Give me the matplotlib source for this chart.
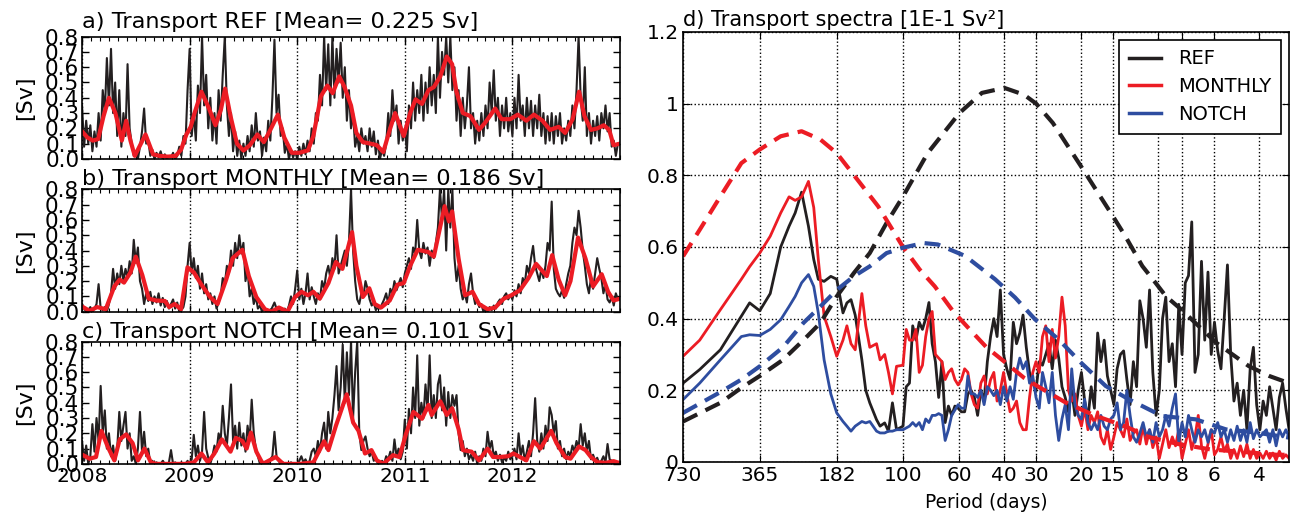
import numpy as np
import matplotlib
matplotlib.use("Agg")
import matplotlib.pyplot as plt
from matplotlib.ticker import MultipleLocator, NullLocator, FixedLocator, FixedFormatter

plt.rcParams['font.family'] = ['DejaVu Sans']

# ---------------- time series (weekly samples, Sv) ----------------
ref_daily = [
    # 2008
    0.35, 0.08, 0.25, 0.10, 0.22, 0.05, 0.18, 0.08, 0.30, 0.12, 0.45, 0.30, 0.66, 0.35, 0.72, 0.30, 0.50,
    0.15, 0.45, 0.08, 0.30, 0.15, 0.62, 0.20, 0.10, 0.02, 0.05, 0.00, 0.08, 0.18, 0.33, 0.10, 0.12, 0.02,
    0.06, 0.00, 0.04, 0.01, 0.05, 0.00, 0.03, 0.00, 0.02, 0.01, 0.04, 0.00, 0.02, 0.08, 0.02, 0.15, 0.10, 0.45,
    # 2009
    0.72, 0.15, 0.30, 0.12, 0.48, 0.30, 0.80, 0.35, 0.55, 0.20, 0.40, 0.12, 0.30, 0.10, 0.45, 0.25, 0.55,
    0.80, 0.35, 0.15, 0.30, 0.05, 0.18, 0.02, 0.12, 0.00, 0.10, 0.02, 0.15, 0.05, 0.22, 0.08, 0.30, 0.12,
    0.18, 0.02, 0.14, 0.05, 0.25, 0.12, 0.40, 0.78, 0.30, 0.42, 0.15, 0.20, 0.04, 0.10, 0.00, 0.06, 0.01, 0.05,
    # 2010
    0.00, 0.08, 0.02, 0.10, 0.03, 0.12, 0.05, 0.20, 0.10, 0.30, 0.25, 0.55, 0.35, 0.80, 0.45, 0.75, 0.35,
    0.80, 0.40, 0.72, 0.50, 0.76, 0.40, 0.60, 0.25, 0.45, 0.20, 0.30, 0.08, 0.15, 0.05, 0.20, 0.10, 0.15,
    0.05, 0.20, 0.08, 0.18, 0.03, 0.12, 0.00, 0.06, 0.02, 0.10, 0.30, 0.15, 0.45, 0.25, 0.35, 0.10, 0.25, 0.12,
    # 2011
    0.20, 0.05, 0.35, 0.20, 0.50, 0.25, 0.45, 0.30, 0.55, 0.25, 0.50, 0.30, 0.60, 0.35, 0.55, 0.30, 0.80,
    0.40, 0.70, 0.55, 0.80, 0.50, 0.80, 0.45, 0.60, 0.25, 0.45, 0.15, 0.40, 0.20, 0.35, 0.60, 0.20, 0.30,
    0.10, 0.25, 0.12, 0.30, 0.15, 0.35, 0.20, 0.50, 0.30, 0.58, 0.25, 0.40, 0.15, 0.35, 0.20, 0.40, 0.18, 0.30,
    # 2012
    0.15, 0.40, 0.20, 0.55, 0.25, 0.35, 0.15, 0.40, 0.20, 0.38, 0.15, 0.35, 0.20, 0.42, 0.15, 0.30, 0.10,
    0.28, 0.12, 0.30, 0.10, 0.28, 0.15, 0.30, 0.10, 0.20, 0.12, 0.25, 0.15, 0.35, 0.20, 0.45, 0.80, 0.40,
    0.25, 0.60, 0.15, 0.30, 0.10, 0.25, 0.15, 0.28, 0.12, 0.30, 0.20, 0.35, 0.18, 0.30, 0.08, 0.12, 0.02, 0.10,
]
monthly_daily = [
    # 2008
    0.05, 0.02, 0.00, 0.01, 0.03, 0.00, 0.02, 0.05, 0.18, 0.02, 0.01, 0.03, 0.00, 0.05, 0.12, 0.28, 0.15,
    0.25, 0.18, 0.30, 0.20, 0.28, 0.22, 0.33, 0.25, 0.47, 0.32, 0.42, 0.20, 0.15, 0.05, 0.12, 0.07, 0.13,
    0.05, 0.10, 0.06, 0.12, 0.04, 0.09, 0.03, 0.07, 0.02, 0.05, 0.08, 0.02, 0.06, 0.00, 0.01, 0.03, 0.10, 0.30,
    # 2009
    0.45, 0.25, 0.35, 0.22, 0.30, 0.15, 0.25, 0.12, 0.18, 0.08, 0.12, 0.05, 0.10, 0.02, 0.06, 0.10, 0.22,
    0.18, 0.30, 0.25, 0.40, 0.30, 0.45, 0.35, 0.50, 0.38, 0.45, 0.20, 0.28, 0.10, 0.15, 0.05, 0.10, 0.02,
    0.04, 0.00, 0.02, 0.00, 0.01, 0.00, 0.03, 0.06, 0.02, 0.00, 0.01, 0.00, 0.02, 0.00, 0.04, 0.10, 0.05, 0.15,
    # 2010
    0.27, 0.08, 0.15, 0.05, 0.12, 0.25, 0.08, 0.16, 0.10, 0.05, 0.12, 0.08, 0.20, 0.15, 0.25, 0.30, 0.22,
    0.35, 0.28, 0.50, 0.25, 0.30, 0.35, 0.40, 0.30, 0.45, 0.80, 0.40, 0.20, 0.08, 0.05, 0.12, 0.10, 0.20,
    0.15, 0.08, 0.04, 0.06, 0.01, 0.03, 0.02, 0.05, 0.08, 0.12, 0.05, 0.15, 0.12, 0.20, 0.14, 0.18, 0.22, 0.16,
    # 2011
    0.25, 0.30, 0.35, 0.28, 0.42, 0.38, 0.60, 0.40, 0.35, 0.45, 0.38, 0.42, 0.30, 0.40, 0.35, 0.45, 0.55,
    0.80, 0.60, 0.80, 0.40, 0.80, 0.55, 0.80, 0.35, 0.20, 0.30, 0.15, 0.08, 0.12, 0.06, 0.18, 0.25, 0.12,
    0.05, 0.08, 0.03, 0.05, 0.00, 0.02, 0.00, 0.03, 0.01, 0.04, 0.02, 0.06, 0.08, 0.05, 0.10, 0.12, 0.08, 0.11,
    # 2012
    0.08, 0.14, 0.10, 0.18, 0.12, 0.22, 0.18, 0.30, 0.25, 0.35, 0.43, 0.30, 0.25, 0.20, 0.28, 0.22, 0.30,
    0.45, 0.40, 0.72, 0.28, 0.15, 0.12, 0.10, 0.14, 0.09, 0.18, 0.25, 0.30, 0.45, 0.55, 0.50, 0.66, 0.55,
    0.40, 0.30, 0.18, 0.12, 0.22, 0.15, 0.25, 0.35, 0.28, 0.22, 0.12, 0.18, 0.08, 0.06, 0.10, 0.04, 0.12, 0.08,
]
notch_daily = [
    # 2008
    0.15, 0.02, 0.12, 0.00, 0.05, 0.26, 0.08, 0.30, 0.15, 0.51, 0.20, 0.35, 0.10, 0.20, 0.05, 0.12, 0.02,
    0.10, 0.34, 0.15, 0.25, 0.34, 0.10, 0.20, 0.02, 0.05, 0.00, 0.10, 0.34, 0.08, 0.21, 0.05, 0.10, 0.00,
    0.02, 0.00, 0.01, 0.00, 0.00, 0.02, 0.00, 0.00, 0.01, 0.09, 0.00, 0.01, 0.00, 0.00, 0.01, 0.00, 0.00, 0.02,
    # 2009
    0.00, 0.03, 0.19, 0.05, 0.12, 0.02, 0.08, 0.34, 0.10, 0.04, 0.00, 0.05, 0.12, 0.08, 0.20, 0.15, 0.38,
    0.20, 0.12, 0.30, 0.52, 0.15, 0.25, 0.10, 0.27, 0.12, 0.20, 0.08, 0.25, 0.15, 0.42, 0.20, 0.10, 0.05,
    0.00, 0.02, 0.00, 0.01, 0.00, 0.03, 0.05, 0.21, 0.05, 0.02, 0.00, 0.01, 0.00, 0.00, 0.00, 0.01, 0.00, 0.00,
    # 2010
    0.00, 0.02, 0.05, 0.01, 0.03, 0.00, 0.02, 0.08, 0.10, 0.05, 0.15, 0.08, 0.20, 0.27, 0.10, 0.34, 0.20,
    0.30, 0.45, 0.64, 0.35, 0.50, 0.78, 0.40, 0.73, 0.45, 0.80, 0.30, 0.60, 0.80, 0.20, 0.09, 0.15, 0.18,
    0.10, 0.05, 0.08, 0.02, 0.04, 0.00, 0.00, 0.02, 0.00, 0.05, 0.03, 0.08, 0.02, 0.16, 0.05, 0.10, 0.03, 0.08,
    # 2011
    0.29, 0.10, 0.36, 0.20, 0.50, 0.30, 0.71, 0.25, 0.40, 0.30, 0.52, 0.35, 0.71, 0.30, 0.45, 0.30, 0.52,
    0.58, 0.35, 0.50, 0.25, 0.47, 0.30, 0.45, 0.38, 0.45, 0.20, 0.09, 0.15, 0.05, 0.10, 0.03, 0.06, 0.02,
    0.08, 0.00, 0.05, 0.02, 0.10, 0.05, 0.21, 0.10, 0.15, 0.05, 0.08, 0.02, 0.06, 0.01, 0.04, 0.02, 0.08, 0.03,
    # 2012
    0.05, 0.10, 0.03, 0.20, 0.05, 0.12, 0.02, 0.08, 0.15, 0.05, 0.20, 0.43, 0.15, 0.08, 0.20, 0.10, 0.25,
    0.15, 0.37, 0.32, 0.20, 0.28, 0.10, 0.15, 0.05, 0.10, 0.03, 0.08, 0.05, 0.12, 0.08, 0.15, 0.10, 0.26,
    0.12, 0.20, 0.08, 0.15, 0.03, 0.06, 0.02, 0.04, 0.00, 0.02, 0.05, 0.01, 0.13, 0.03, 0.02, 0.00, 0.01, 0.00,
]

# smoothed series (decimal year, Sv)
ref_smooth_t = [2008.00, 2008.05, 2008.10, 2008.15, 2008.20, 2008.25, 2008.31, 2008.37, 2008.41, 2008.45,
                2008.49, 2008.59, 2008.66, 2008.72, 2008.80, 2008.87, 2008.92, 2008.97, 2009.01, 2009.05,
                2009.11, 2009.18, 2009.24, 2009.29, 2009.33, 2009.38, 2009.44, 2009.50, 2009.56, 2009.63,
                2009.69, 2009.75, 2009.82, 2009.88, 2009.95, 2010.02, 2010.10, 2010.15, 2010.22, 2010.28,
                2010.33, 2010.39, 2010.44, 2010.50, 2010.55, 2010.61, 2010.68, 2010.74, 2010.80, 2010.86,
                2010.91, 2010.99, 2011.05, 2011.10, 2011.16, 2011.22, 2011.27, 2011.33, 2011.39, 2011.44,
                2011.48, 2011.54, 2011.61, 2011.69, 2011.75, 2011.84, 2011.90, 2011.98, 2012.05, 2012.13,
                2012.20, 2012.28, 2012.35, 2012.43, 2012.49, 2012.56, 2012.62, 2012.67, 2012.73, 2012.79,
                2012.85, 2012.90, 2012.94, 2013.00]
ref_smooth = [0.18, 0.14, 0.12, 0.13, 0.28, 0.40, 0.30, 0.12, 0.25, 0.12,
              0.02, 0.16, 0.03, 0.02, 0.015, 0.02, 0.06, 0.16, 0.21, 0.31,
              0.44, 0.33, 0.22, 0.32, 0.46, 0.28, 0.10, 0.055, 0.09, 0.16,
              0.11, 0.19, 0.29, 0.14, 0.04, 0.04, 0.056, 0.15, 0.41, 0.48,
              0.43, 0.54, 0.47, 0.35, 0.17, 0.11, 0.10, 0.09, 0.045, 0.19,
              0.30, 0.15, 0.30, 0.39, 0.36, 0.45, 0.47, 0.54, 0.67, 0.62,
              0.44, 0.30, 0.28, 0.19, 0.24, 0.33, 0.26, 0.26, 0.29, 0.25,
              0.29, 0.25, 0.19, 0.21, 0.17, 0.26, 0.44, 0.28, 0.19, 0.20,
              0.22, 0.19, 0.09, 0.10]
monthly_smooth_t = [2008.01, 2008.07, 2008.14, 2008.22, 2008.30, 2008.35, 2008.39, 2008.45, 2008.50, 2008.56,
                    2008.62, 2008.69, 2008.77, 2008.81, 2008.86, 2008.92, 2008.98, 2009.04, 2009.11, 2009.19,
                    2009.26, 2009.34, 2009.40, 2009.49, 2009.55, 2009.62, 2009.70, 2009.76, 2009.83, 2009.91,
                    2009.98, 2010.04, 2010.10, 2010.15, 2010.21, 2010.29, 2010.36, 2010.42, 2010.51, 2010.55,
                    2010.61, 2010.67, 2010.72, 2010.78, 2010.86, 2010.93, 2010.99, 2011.05, 2011.12, 2011.22,
                    2011.27, 2011.37, 2011.41, 2011.44, 2011.50, 2011.56, 2011.63, 2011.69, 2011.77, 2011.84,
                    2011.92, 2011.99, 2012.07, 2012.15, 2012.22, 2012.32, 2012.37, 2012.43, 2012.49, 2012.54,
                    2012.61, 2012.68, 2012.75, 2012.83, 2012.89, 2012.94, 2013.00]
monthly_smooth = [0.03, 0.005, 0.03, 0.016, 0.165, 0.21, 0.19, 0.256, 0.36, 0.24,
                  0.085, 0.073, 0.07, 0.03, 0.05, 0.016, 0.29, 0.256, 0.176, 0.096,
                  0.05, 0.21, 0.35, 0.405, 0.233, 0.096, 0.016, 0.0, 0.027, 0.0,
                  0.096, 0.13, 0.107, 0.13, 0.085, 0.187, 0.325, 0.28, 0.52, 0.30,
                  0.096, 0.153, 0.05, 0.027, 0.073, 0.176, 0.187, 0.30, 0.405, 0.39,
                  0.36, 0.69, 0.59, 0.656, 0.347, 0.107, 0.13, 0.05, 0.016, 0.027,
                  0.085, 0.107, 0.14, 0.22, 0.313, 0.233, 0.37, 0.21, 0.107, 0.20,
                  0.485, 0.347, 0.165, 0.245, 0.13, 0.073, 0.085]
notch_smooth_t = [2008.01, 2008.07, 2008.13, 2008.18, 2008.24, 2008.30, 2008.35, 2008.41, 2008.47, 2008.52,
                  2008.58, 2008.64, 2008.69, 2008.96, 2009.04, 2009.11, 2009.17, 2009.23, 2009.30, 2009.38,
                  2009.43, 2009.49, 2009.53, 2009.57, 2009.62, 2009.68, 2009.80, 2009.87, 2010.02, 2010.15,
                  2010.25, 2010.29, 2010.36, 2010.46, 2010.52, 2010.57, 2010.63, 2010.69, 2010.74, 2010.80,
                  2010.89, 2010.95, 2011.01, 2011.08, 2011.16, 2011.22, 2011.25, 2011.33, 2011.39, 2011.44,
                  2011.50, 2011.54, 2011.62, 2011.69, 2011.77, 2011.82, 2011.88, 2011.96, 2012.01, 2012.07,
                  2012.13, 2012.20, 2012.26, 2012.36, 2012.41, 2012.49, 2012.54, 2012.62, 2012.68, 2012.73,
                  2012.79, 2012.87, 2012.94, 2013.00]
notch_smooth = [0.057, 0.034, 0.045, 0.216, 0.11, 0.023, 0.16, 0.193, 0.136, 0.023,
                0.10, 0.01, 0.0, 0.0, 0.01, 0.068, 0.01, 0.068, 0.16, 0.08,
                0.17, 0.15, 0.10, 0.205, 0.08, 0.0, 0.045, 0.0, 0.0, 0.01,
                0.148, 0.09, 0.25, 0.455, 0.27, 0.216, 0.068, 0.09, 0.023, 0.0,
                0.057, 0.045, 0.193, 0.34, 0.295, 0.386, 0.32, 0.41, 0.32, 0.364,
                0.227, 0.09, 0.08, 0.023, 0.10, 0.045, 0.045, 0.05, 0.068, 0.045,
                0.023, 0.148, 0.10, 0.216, 0.136, 0.045, 0.034, 0.114, 0.09, 0.045,
                0.011, 0.007, 0.018, 0.005]

panels = [
    ("a) Transport REF [Mean= 0.225 Sv]", ref_daily, ref_smooth_t, ref_smooth),
    ("b) Transport MONTHLY [Mean= 0.186 Sv]", monthly_daily, monthly_smooth_t, monthly_smooth),
    ("c) Transport NOTCH [Mean= 0.101 Sv]", notch_daily, notch_smooth_t, notch_smooth),
]
years = [2008, 2009, 2010, 2011, 2012]

# ---------------- spectra ----------------
period_lo = [730, 628, 521, 431, 400, 365, 332, 302, 280, 265, 250, 235, 224, 215, 204,
             192, 182, 172, 166, 160, 154, 145, 140, 135, 127, 123, 118, 114, 110, 106]
ref_lo = [0.22, 0.258, 0.313, 0.407, 0.444, 0.422, 0.47, 0.60, 0.658, 0.695, 0.753, 0.658, 0.565, 0.51, 0.504,
          0.518, 0.51, 0.416, 0.444, 0.453, 0.41, 0.285, 0.20, 0.165, 0.118, 0.10, 0.109, 0.086, 0.165, 0.09]
monthly_lo = [0.295, 0.34, 0.425, 0.51, 0.545, 0.583, 0.63, 0.695, 0.74, 0.73, 0.74, 0.783, 0.71, 0.565, 0.407,
              0.35, 0.295, 0.34, 0.38, 0.33, 0.313, 0.47, 0.38, 0.32, 0.33, 0.285, 0.30, 0.25, 0.19, 0.267]
notch_lo = [0.174, 0.22, 0.285, 0.35, 0.355, 0.353, 0.37, 0.397, 0.434, 0.462, 0.50, 0.523, 0.49, 0.416, 0.285,
            0.19, 0.137, 0.113, 0.10, 0.086, 0.10, 0.113, 0.109, 0.113, 0.086, 0.081, 0.081, 0.086, 0.086, 0.09]

# periods 100 -> 3.05 days, evenly spaced in log(period)
ref_hi = [0.10, 0.21, 0.22, 0.38, 0.34, 0.39, 0.37, 0.40, 0.445, 0.33, 0.28, 0.18, 0.28, 0.11, 0.156, 0.13,
          0.156, 0.15, 0.14, 0.14, 0.19, 0.20, 0.18, 0.13, 0.20, 0.17, 0.28, 0.35, 0.40, 0.35, 0.48, 0.30,
          0.26, 0.23, 0.39, 0.33, 0.36, 0.41, 0.32, 0.25, 0.22, 0.20, 0.28, 0.27, 0.30, 0.33, 0.26, 0.34,
          0.29, 0.21, 0.18, 0.14, 0.20, 0.13, 0.20, 0.25, 0.17, 0.12, 0.21, 0.15, 0.36, 0.28, 0.34, 0.24,
          0.20, 0.16, 0.26, 0.30, 0.31, 0.23, 0.16, 0.28, 0.21, 0.45, 0.40, 0.32, 0.48, 0.25, 0.13, 0.20,
          0.40, 0.46, 0.28, 0.33, 0.21, 0.44, 0.30, 0.50, 0.52, 0.67, 0.25, 0.30, 0.56, 0.34, 0.53, 0.30,
          0.39, 0.31, 0.26, 0.40, 0.55, 0.30, 0.17, 0.22, 0.13, 0.20, 0.09, 0.26, 0.32, 0.16, 0.09, 0.17,
          0.13, 0.21, 0.15, 0.09, 0.18, 0.22, 0.15, 0.09]
monthly_hi = [0.27, 0.37, 0.34, 0.34, 0.37, 0.25, 0.27, 0.35, 0.40, 0.42, 0.30, 0.29, 0.28, 0.23, 0.25, 0.26,
              0.23, 0.215, 0.23, 0.26, 0.25, 0.19, 0.16, 0.15, 0.22, 0.24, 0.19, 0.23, 0.25, 0.17, 0.20, 0.25,
              0.19, 0.14, 0.15, 0.17, 0.11, 0.09, 0.09, 0.18, 0.25, 0.28, 0.25, 0.35, 0.38, 0.28, 0.37, 0.29,
              0.35, 0.46, 0.38, 0.20, 0.17, 0.19, 0.13, 0.10, 0.15, 0.09, 0.13, 0.11, 0.14, 0.07, 0.05, 0.09,
              0.035, 0.07, 0.11, 0.09, 0.07, 0.12, 0.06, 0.08, 0.09, 0.05, 0.10, 0.05, 0.09, 0.04, 0.07, 0.01,
              0.05, 0.09, 0.04, 0.07, 0.045, 0.09, 0.01, 0.05, 0.09, 0.035, 0.07, 0.13, 0.045, 0.01, 0.05, 0.09,
              0.02, 0.035, 0.07, 0.03, 0.05, 0.01, 0.035, 0.01, 0.045, 0.015, 0.05, 0.01, 0.035, 0.01, 0.025, 0.01,
              0.03, 0.01, 0.025, 0.005, 0.03, 0.01, 0.02, 0.01]
notch_hi = [0.09, 0.095, 0.10, 0.11, 0.10, 0.11, 0.09, 0.12, 0.11, 0.13, 0.13, 0.135, 0.13, 0.06, 0.09, 0.13,
            0.145, 0.16, 0.15, 0.15, 0.24, 0.19, 0.19, 0.18, 0.20, 0.16, 0.21, 0.20, 0.185, 0.20, 0.16, 0.21,
            0.17, 0.21, 0.175, 0.25, 0.29, 0.26, 0.28, 0.22, 0.24, 0.18, 0.15, 0.25, 0.21, 0.165, 0.25, 0.13,
            0.06, 0.12, 0.16, 0.09, 0.26, 0.16, 0.13, 0.12, 0.175, 0.11, 0.09, 0.11, 0.09, 0.13, 0.10, 0.09,
            0.12, 0.13, 0.165, 0.09, 0.11, 0.20, 0.13, 0.07, 0.055, 0.08, 0.11, 0.07, 0.09, 0.055, 0.11, 0.07,
            0.09, 0.13, 0.10, 0.15, 0.19, 0.055, 0.11, 0.07, 0.13, 0.09, 0.055, 0.09, 0.07, 0.09, 0.055, 0.09,
            0.08, 0.11, 0.07, 0.09, 0.055, 0.09, 0.06, 0.10, 0.06, 0.09, 0.055, 0.11, 0.065, 0.09, 0.07, 0.08,
            0.09, 0.055, 0.09, 0.045, 0.09, 0.07, 0.09, 0.07]

# smooth (dashed) spectra: (period, value)
ref_fit_p = [730, 521, 431, 365, 296, 246, 211, 182, 156, 135, 116, 100, 80, 60, 49, 40, 33.5, 30,
             25.8, 20, 15, 13.4, 11.5, 10.2, 9.3, 8.1, 5.9, 4.4, 3.65, 3.05]
ref_fit = [0.113, 0.165, 0.207, 0.24, 0.285, 0.34, 0.388, 0.462, 0.527, 0.583, 0.667, 0.741, 0.862, 0.974,
           1.03, 1.044, 1.025, 1.0, 0.946, 0.825, 0.686, 0.63, 0.547, 0.50, 0.463, 0.426, 0.333, 0.268, 0.24, 0.22]
monthly_fit_p = [730, 628, 521, 431, 365, 302, 250, 211, 182, 151, 125, 100, 86, 75, 63.5, 54.7, 47, 40,
                 33.5, 29.4, 23, 17.7, 14.1, 12.6, 10.9, 8.3, 6.2, 4.6, 3.4, 3.05]
monthly_fit = [0.574, 0.648, 0.741, 0.834, 0.872, 0.909, 0.923, 0.90, 0.862, 0.788, 0.713, 0.60, 0.537, 0.49,
               0.42, 0.37, 0.32, 0.28, 0.235, 0.21, 0.166, 0.13, 0.105, 0.091, 0.07, 0.05, 0.035, 0.028, 0.02, 0.02]
notch_fit_p = [730, 521, 431, 365, 296, 246, 211, 182, 156, 135, 116, 100, 83, 73, 57, 43.5, 36.3, 30.3,
               24.5, 20, 16, 13, 9.6, 7.1, 5.4, 4.1, 3.05]
notch_fit = [0.137, 0.195, 0.23, 0.267, 0.32, 0.388, 0.434, 0.48, 0.518, 0.546, 0.583, 0.598, 0.611, 0.607,
             0.575, 0.51, 0.459, 0.398, 0.342, 0.277, 0.212, 0.175, 0.128, 0.119, 0.091, 0.082, 0.068]

period_ticks = [730, 365, 182, 100, 60, 40, 30, 20, 15, 10, 8, 6, 4]

BLACK = '#231f20'
RED = '#ec1c24'
BLUE = '#2e4da0'

fig = plt.figure(figsize=(12.9, 5.16), dpi=100)

bottoms = [0.692, 0.396, 0.101]
for i, (title, daily, st, sv) in enumerate(panels):
    ax = fig.add_axes([0.0636, bottoms[i], 0.417, 0.237])
    t = 2008 + np.arange(len(daily)) / 52.0
    ax.plot(t, daily, color=BLACK, lw=1.5)
    ax.plot(st, sv, color=RED, lw=3)
    ax.set_xlim(2008, 2013)
    ax.set_ylim(0, 0.8)
    ax.yaxis.set_major_locator(MultipleLocator(0.1))
    ax.yaxis.set_major_formatter(plt.FormatStrFormatter('%.1f'))
    ax.set_xticks(years)
    ax.xaxis.set_minor_locator(MultipleLocator(1 / 12))
    ax.tick_params(which='both', direction='in', top=True, right=True, labelsize=14.5)
    ax.tick_params(axis='y', labelsize=15.5)
    ax.tick_params(which='major', length=5, width=1, pad=2)
    ax.tick_params(which='minor', length=3, width=0.8)
    ax.grid(axis='x', which='major', linestyle=':', color='k', lw=1)
    ax.set_ylabel('[Sv]', fontsize=16)
    ax.yaxis.set_label_coords(-0.088, 0.5)
    ax.set_title(title, loc='left', fontsize=16.2, pad=6 if i == 0 else 2)
    for s in ax.spines.values():
        s.set_linewidth(1.2)
    if i < 2:
        ax.set_xticklabels([])

ax = fig.add_axes([0.5295, 0.1047, 0.4698, 0.8333])
period_hi = np.geomspace(100, 3.05, len(ref_hi))
ax.plot(period_lo + list(period_hi), ref_lo + ref_hi, color=BLACK, lw=2, label='REF')
ax.plot(period_lo + list(period_hi), monthly_lo + monthly_hi, color=RED, lw=2, label='MONTHLY')
ax.plot(period_lo + list(period_hi), notch_lo + notch_hi, color=BLUE, lw=2, label='NOTCH')
ax.plot(ref_fit_p, ref_fit, color=BLACK, lw=3, ls=(0, (3.8, 2.2)))
ax.plot(monthly_fit_p, monthly_fit, color=RED, lw=3, ls=(0, (3.8, 2.2)))
ax.plot(notch_fit_p, notch_fit, color=BLUE, lw=3, ls=(0, (3.8, 2.2)))
ax.set_xscale('log')
ax.set_xlim(730, 3.05)
ax.set_ylim(0, 1.2)
ax.xaxis.set_major_locator(FixedLocator(period_ticks))
ax.xaxis.set_major_formatter(FixedFormatter([str(p) for p in period_ticks]))
ax.xaxis.set_minor_locator(NullLocator())
ax.set_yticks([0, 0.2, 0.4, 0.6, 0.8, 1.0, 1.2])
ax.set_yticklabels(['0', '0.2', '0.4', '0.6', '0.8', '1', '1.2'])
ax.tick_params(direction='in', top=True, right=True, labelsize=14.5, length=5, pad=3)
ax.grid(True, linestyle=':', color='k', lw=1)
ax.set_xlabel('Period (days)', fontsize=13.4, labelpad=6)
ax.set_title('d) Transport spectra [1E-1 Sv²]', loc='left', fontsize=15, pad=4)
for s in ax.spines.values():
    s.set_linewidth(1.2)
leg = ax.legend(loc='upper right', fontsize=14, fancybox=False, framealpha=1,
                edgecolor='k', handlelength=1.65, handletextpad=0.9, borderpad=0.5,
                labelspacing=0.45, borderaxespad=0.4)
leg.get_frame().set_linewidth(1.2)
for line in leg.get_lines():
    line.set_linewidth(2.5)

fig.savefig('out.png', dpi=100)
